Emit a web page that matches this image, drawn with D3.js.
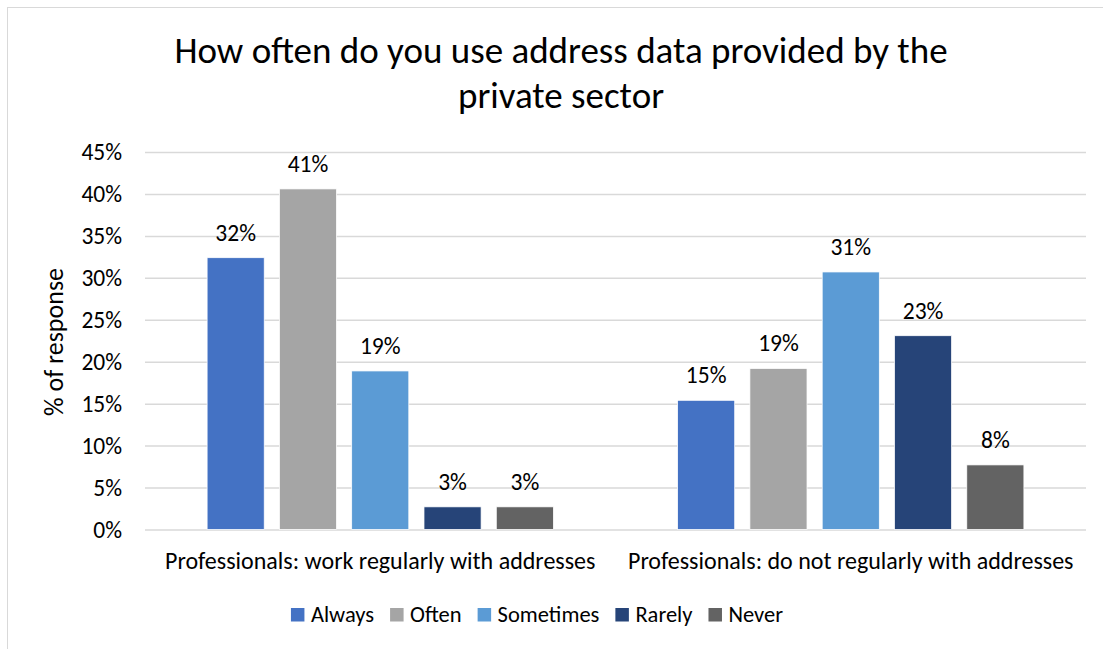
<!DOCTYPE html>
<html>
<head>
<meta charset="utf-8">
<script src="https://cdn.jsdelivr.net/npm/d3@7"></script>
<style>
  body { margin: 0; background: #fff; }
  svg { font-family: Carlito, Calibri, Lato, sans-serif; }
</style>
</head>
<body>
<svg id="chart"></svg>
<script>
// chart data
let groups = ["Professionals: work regularly with addresses", "Professionals: do not regularly with addresses"];
let series = ["Always", "Often", "Sometimes", "Rarely", "Never"];
let colors = ["#4472C4", "#A5A5A5", "#5B9BD5", "#264478", "#636363"];
let regularValues = [32.4, 40.6, 18.9, 2.7, 2.7];
let notRegularValues = [15.4, 19.2, 30.7, 23.1, 7.7];
let yTicks = [0, 5, 10, 15, 20, 25, 30, 35, 40, 45];
let titleLines = ["How often do you use address data provided by the", "private sector"];

function drawChart() {
    let width = 1103, height = 649;
    let svg = d3.select("#chart").attr("width", width).attr("height", height);

    svg.append("rect")
        .attr("x", 7.5).attr("y", 7.5)
        .attr("width", 1200).attr("height", 700)
        .attr("fill", "#fff")
        .attr("stroke", "#d9d9d9");

    let plot = {left: 145, right: 1086, top: 152, bottom: 529.5};

    let x0 = d3.scaleBand().domain(groups).range([plot.left, plot.right]);
    let x1 = d3.scaleBand().domain(series).range([0, x0.bandwidth()])
        .paddingInner(0.21).paddingOuter(0.859);
    let y = d3.scaleLinear().domain([0, 45]).range([plot.bottom, plot.top]);
    let color = d3.scaleOrdinal().domain(series).range(colors);

    // grid
    let yAxis = d3.axisLeft(y).tickValues(yTicks)
        .tickSize(-(plot.right - plot.left))
        .tickFormat(d => d + "%")
        .tickPadding(23);
    let gy = svg.append("g")
        .attr("transform", "translate(" + plot.left + ",0)")
        .call(yAxis);
    gy.select(".domain").remove();
    gy.selectAll("line").attr("stroke", "#d9d9d9").attr("stroke-width", 1.5);
    gy.selectAll("text")
        .attr("font-size", 23.5)
        .attr("font-family", "Carlito, Calibri, Lato, sans-serif")
        .attr("fill", "#000");

    // bars
    let rows = groups.map((g, i) => ({
        group: g,
        values: series.map((s, j) => ({series: s, value: (i === 0 ? regularValues : notRegularValues)[j]}))
    }));

    let gGroups = svg.selectAll(".grp").data(rows).enter().append("g")
        .attr("class", "grp")
        .attr("transform", d => "translate(" + x0(d.group) + ",0)");

    gGroups.selectAll("rect").data(d => d.values).enter().append("rect")
        .attr("x", d => x1(d.series))
        .attr("width", x1.bandwidth())
        .attr("y", d => y(d.value))
        .attr("height", d => plot.bottom - y(d.value))
        .attr("fill", d => color(d.series))
        .attr("stroke", "#fff")
        .attr("stroke-width", 0.75);

    gGroups.selectAll(".lbl").data(d => d.values).enter().append("text")
        .attr("class", "lbl")
        .attr("x", d => x1(d.series) + x1.bandwidth() / 2)
        .attr("y", d => y(d.value) - 17)
        .attr("text-anchor", "middle")
        .attr("font-size", 23.5)
        .text(d => Math.round(d.value) + "%");

    // category labels
    svg.selectAll(".cat").data(groups).enter().append("text")
        .attr("class", "cat")
        .attr("x", d => x0(d) + x0.bandwidth() / 2)
        .attr("y", 568.5)
        .attr("text-anchor", "middle")
        .attr("font-size", 24)
        .text(d => d);

    // title
    svg.selectAll(".title").data(titleLines).enter().append("text")
        .attr("class", "title")
        .attr("x", 561)
        .attr("y", (d, i) => 63 + i * 45)
        .attr("text-anchor", "middle")
        .attr("font-size", 37)
        .text(d => d);

    // y axis title
    svg.append("text")
        .attr("transform", "translate(63,342) rotate(-90)")
        .attr("text-anchor", "middle")
        .attr("font-size", 26)
        .text("% of response");

    // legend
    let legend = svg.append("g");
    let cursor = 0;
    series.forEach((s, i) => {
        let item = legend.append("g").attr("transform", "translate(" + cursor + ",0)");
        item.append("rect").attr("x", 0).attr("y", -14).attr("width", 13.5).attr("height", 13.5)
            .attr("fill", colors[i]);
        let t = item.append("text").attr("x", 20).attr("y", 0)
            .attr("font-size", 22.5).text(s);
        cursor += 20 + t.node().getComputedTextLength() + 16;
    });
    let legendWidth = cursor - 16;
    legend.attr("transform", "translate(" + (537 - legendWidth / 2) + ",622)");
}

drawChart();
</script>
</body>
</html>
